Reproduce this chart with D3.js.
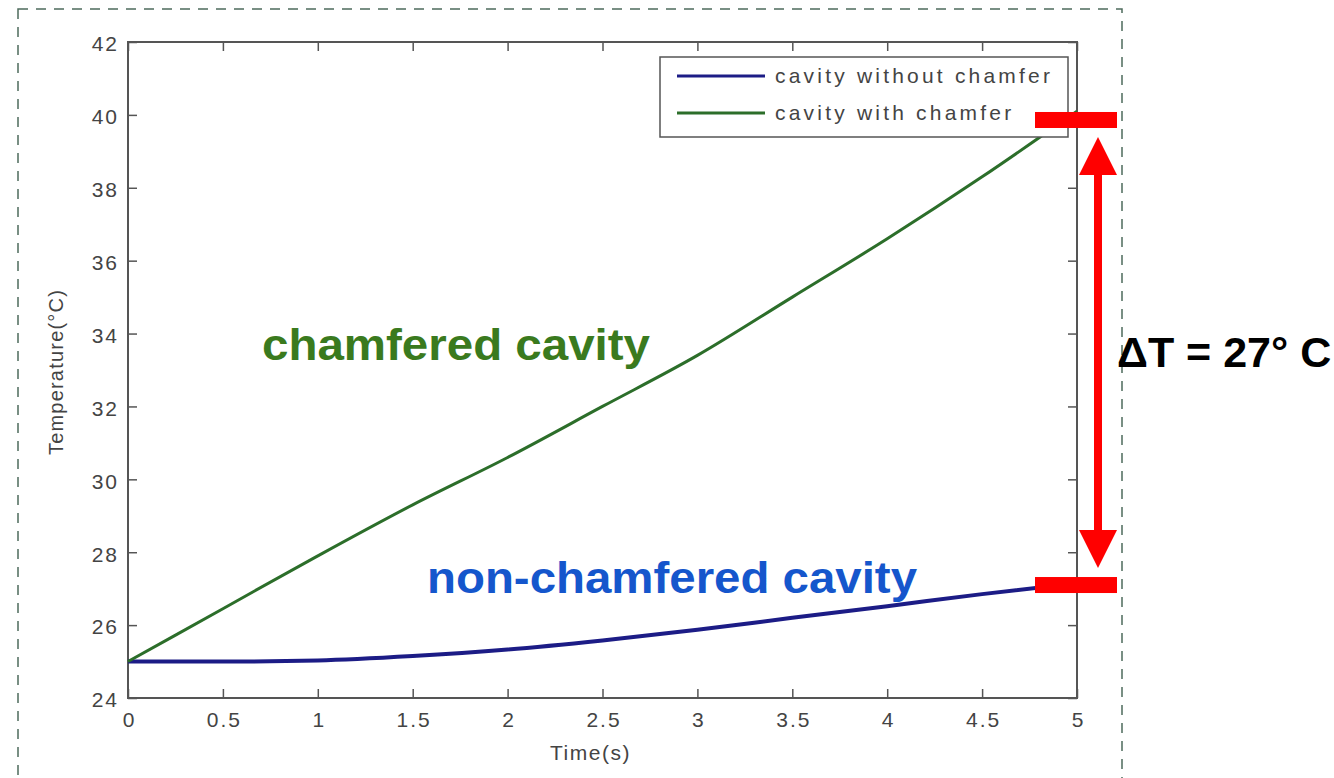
<!DOCTYPE html>
<html>
<head>
<meta charset="utf-8">
<script src="https://cdn.jsdelivr.net/npm/d3@7"></script>
<style>
  body { margin: 0; background: #fff; }
  svg { display: block; }
  .axis text { font-family: "Liberation Sans", Arial, sans-serif; font-size: 21px; fill: #444; letter-spacing: 2px; }
  .axis line { stroke: #555; }
</style>
</head>
<body>
<div id="area"></div>
<script>
var times = [0, 0.5, 1, 1.5, 2, 2.5, 3, 3.5, 4, 4.5, 5];
var withoutChamfer = [25.0, 25.0, 25.03, 25.15, 25.33, 25.58, 25.87, 26.2, 26.52, 26.85, 27.15];
var withChamfer = [25.0, 26.45, 27.9, 29.3, 30.6, 32.0, 33.4, 35.0, 36.6, 38.3, 40.1];
var seriesNames = ["cavity without chamfer", "cavity with chamfer"];
var xTicks = [0, 0.5, 1, 1.5, 2, 2.5, 3, 3.5, 4, 4.5, 5];
var yTicks = [24, 26, 28, 30, 32, 34, 36, 38, 40, 42];
var deltaEnds = [39.86, 27.1];

var width = 1334,
  height = 778,
  mLeft = 128, mRight = 1077, mTop = 42, mBottom = 698;

var svg = d3.select("#area")
  .append("svg")
  .attr("width", width)
  .attr("height", height);

// dashed frame around the figure
svg.append("rect")
  .attr("x", 18).attr("y", 9)
  .attr("width", 1104).attr("height", 800)
  .attr("fill", "none")
  .attr("stroke", "#4d6b5c")
  .attr("stroke-width", 1.5)
  .attr("stroke-dasharray", "10,8");

var x = d3.scaleLinear().domain([0, 5]).range([mLeft, mRight]);
var y = d3.scaleLinear().domain([24, 42]).range([mBottom, mTop]);

var fmt = d3.format("~g");

svg.append("g").attr("class", "axis")
  .attr("transform", "translate(0," + mBottom + ")")
  .call(d3.axisBottom(x).tickValues(xTicks).tickFormat(fmt).tickSizeInner(-9).tickSizeOuter(0).tickPadding(12))
  .call(function (g) { g.selectAll("text").attr("dy", "0.8em").attr("dx", "1px"); });

svg.append("g").attr("class", "axis")
  .attr("transform", "translate(0," + mTop + ")")
  .call(d3.axisTop(x).tickValues(xTicks).tickFormat("").tickSizeInner(-9).tickSizeOuter(0));

svg.append("g").attr("class", "axis")
  .attr("transform", "translate(" + mLeft + ",0)")
  .call(d3.axisLeft(y).tickValues(yTicks).tickFormat(fmt).tickSizeInner(-9).tickSizeOuter(0).tickPadding(9))
  .call(function (g) { g.selectAll("text").attr("dy", "0.42em"); });

svg.append("g").attr("class", "axis")
  .attr("transform", "translate(" + mRight + ",0)")
  .call(d3.axisRight(y).tickValues(yTicks).tickFormat("").tickSizeInner(-9).tickSizeOuter(0));

svg.selectAll(".axis path").remove();
svg.selectAll(".axis line").attr("stroke-width", 1.5);

svg.append("rect")
  .attr("x", mLeft).attr("y", mTop)
  .attr("width", mRight - mLeft).attr("height", mBottom - mTop)
  .attr("fill", "none")
  .attr("stroke", "#555")
  .attr("stroke-width", 2);

// axis titles
svg.append("text")
  .attr("x", (mLeft + mRight) / 2 - 12).attr("y", 760)
  .attr("text-anchor", "middle")
  .style("font-family", "Liberation Sans, Arial, sans-serif")
  .style("font-size", "21px")
  .style("letter-spacing", "1.5px")
  .style("fill", "#444")
  .text("Time(s)");

svg.append("text")
  .attr("transform", "translate(63,372) rotate(-90)")
  .attr("text-anchor", "middle")
  .style("font-family", "Liberation Sans, Arial, sans-serif")
  .style("font-size", "20px")
  .style("letter-spacing", "1.2px")
  .style("fill", "#444")
  .text("Temperature(°C)");

// lines
var line = d3.line()
  .x(function (d) { return x(d[0]); })
  .y(function (d) { return y(d[1]); })
  .curve(d3.curveMonotoneX);

var colors = ["#1c1c86", "#2c6e2a"];
var widths = [4, 3];
[withoutChamfer, withChamfer].forEach(function (vals, i) {
  svg.append("path")
    .datum(times.map(function (t, j) { return [t, vals[j]]; }))
    .attr("fill", "none")
    .attr("stroke", colors[i])
    .attr("stroke-width", widths[i])
    .attr("d", line);
});

// legend
var lg = svg.append("g").attr("transform", "translate(660,57)");
lg.append("rect")
  .attr("width", 408).attr("height", 80)
  .attr("fill", "#fff")
  .attr("stroke", "#555")
  .attr("stroke-width", 1.5);
seriesNames.forEach(function (name, i) {
  var yy = 19 + i * 37;
  lg.append("line")
    .attr("x1", 17).attr("x2", 105)
    .attr("y1", yy).attr("y2", yy)
    .attr("stroke", colors[i])
    .attr("stroke-width", 3);
  lg.append("text")
    .attr("x", 115).attr("y", yy)
    .attr("dy", "0.35em")
    .style("font-family", "Liberation Sans, Arial, sans-serif")
    .style("font-size", "21px")
    .style("letter-spacing", "3.2px")
    .style("fill", "#444")
    .text(name);
});

// annotations
svg.append("text")
  .attr("x", 262).attr("y", 360)
  .attr("textLength", 388)
  .attr("lengthAdjust", "spacingAndGlyphs")
  .style("font-family", "Liberation Sans, Arial, sans-serif")
  .style("font-weight", "bold")
  .style("font-size", "45px")
  .style("fill", "#3a7a1e")
  .text("chamfered cavity");

svg.append("text")
  .attr("x", 427).attr("y", 593)
  .attr("textLength", 490)
  .attr("lengthAdjust", "spacingAndGlyphs")
  .style("font-family", "Liberation Sans, Arial, sans-serif")
  .style("font-weight", "bold")
  .style("font-size", "45px")
  .style("fill", "#1556cc")
  .text("non-chamfered cavity");

var red = "#ff0000";
deltaEnds.forEach(function (v) {
  svg.append("rect")
    .attr("x", 1035).attr("y", y(v) - 8)
    .attr("width", 82).attr("height", 16)
    .attr("fill", red);
});
var yTop = y(deltaEnds[0]) + 17, yBot = y(deltaEnds[1]) - 17;
svg.append("rect")
  .attr("x", 1094).attr("y", yTop + 37)
  .attr("width", 8).attr("height", yBot - yTop - 74)
  .attr("fill", red);
svg.append("path")
  .attr("d", "M1098," + yTop + "L1117," + (yTop + 38) + "L1079," + (yTop + 38) + "Z")
  .attr("fill", red);
svg.append("path")
  .attr("d", "M1098," + yBot + "L1117," + (yBot - 38) + "L1079," + (yBot - 38) + "Z")
  .attr("fill", red);

svg.append("text")
  .attr("x", 1117).attr("y", 367)
  .style("font-family", "Liberation Sans, Arial, sans-serif")
  .style("font-weight", "bold")
  .style("font-size", "43px")
  .style("fill", "#000")
  .text("ΔT = 27° C");
</script>
</body>
</html>
